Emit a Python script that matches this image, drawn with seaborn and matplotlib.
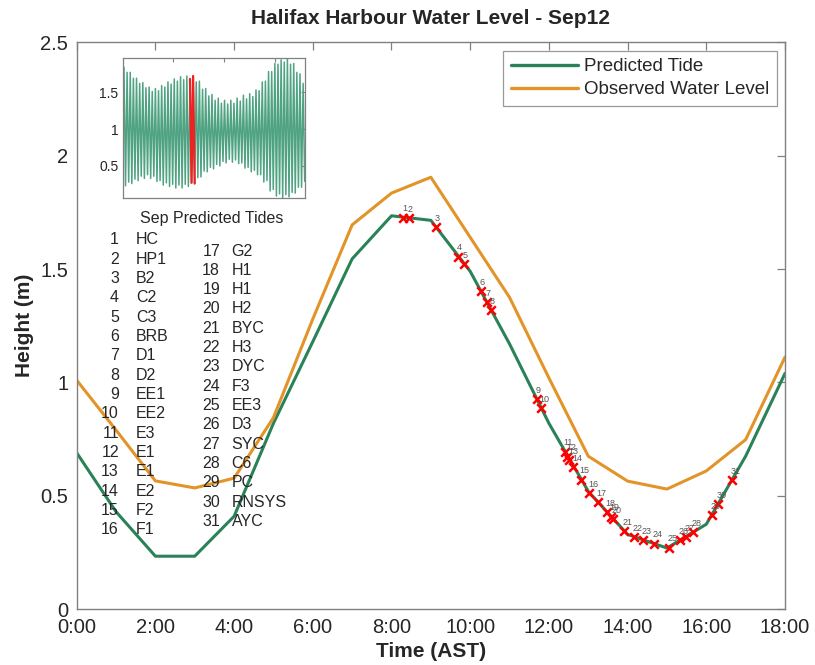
import numpy as np
import pandas as pd
import seaborn as sns
import matplotlib
matplotlib.use("Agg")
import matplotlib.pyplot as plt

# Hourly water levels for 12 September (m)
hours = list(range(19))
predicted = [0.69, 0.43, 0.234, 0.234, 0.41, 0.82, 1.18, 1.545, 1.735, 1.715,
             1.49, 1.17, 0.82, 0.52, 0.33, 0.27, 0.375, 0.675, 1.04]
observed = [1.01, 0.79, 0.566, 0.535, 0.578, 0.845, 1.28, 1.695, 1.835, 1.905,
            1.64, 1.375, 1.02, 0.675, 0.565, 0.53, 0.61, 0.748, 1.112]
hour_labels = ["0:00", "2:00", "4:00", "6:00", "8:00", "10:00", "12:00",
               "14:00", "16:00", "18:00"]

# Stations along the route: time passed (h) and predicted height (m)
station_ids = list(range(1, 32))
station_names = ["HC", "HP1", "B2", "C2", "C3", "BRB", "D1", "D2", "EE1", "EE2",
                 "E3", "E1", "E1", "E2", "F2", "F1", "G2", "H1", "H1", "H2",
                 "BYC", "H3", "DYC", "F3", "EE3", "D3", "SYC", "C6", "PC",
                 "RNSYS", "AYC"]
station_hours = [8.30, 8.45, 9.12, 9.70, 9.85, 10.27, 10.42, 10.53, 11.69, 11.80,
                 12.41, 12.47, 12.52, 12.62, 12.82, 13.03, 13.24, 13.48, 13.58,
                 13.64, 13.91, 14.15, 14.40, 14.67, 15.06, 15.33, 15.48, 15.66,
                 16.14, 16.30, 16.65]
station_heights = [1.727, 1.725, 1.686, 1.555, 1.522, 1.404, 1.356, 1.321, 0.925,
                   0.888, 0.695, 0.673, 0.658, 0.628, 0.572, 0.514, 0.474, 0.428,
                   0.409, 0.398, 0.346, 0.320, 0.305, 0.290, 0.272, 0.304, 0.320,
                   0.339, 0.416, 0.465, 0.568]

# September predicted high and low waters (m), one pair per tidal cycle
sep_highs = [1.84, 1.77, 1.77, 1.69, 1.69, 1.62, 1.63, 1.56, 1.57, 1.51,
             1.55, 1.52, 1.59, 1.57, 1.64, 1.61, 1.68, 1.65, 1.71, 1.67,
             1.72, 1.68, 1.72, 1.64, 1.65, 1.54, 1.55, 1.45, 1.47, 1.39,
             1.42, 1.35, 1.39, 1.34, 1.39, 1.35, 1.42, 1.38, 1.46, 1.41,
             1.48, 1.44, 1.53, 1.52, 1.64, 1.65, 1.78, 1.78, 1.89, 1.88,
             1.94, 1.91, 1.95, 1.88, 1.89, 1.77, 1.75, 1.62]
sep_lows = [0.23, 0.28, 0.26, 0.32, 0.30, 0.36, 0.33, 0.38, 0.33, 0.36,
            0.29, 0.30, 0.24, 0.27, 0.22, 0.25, 0.20, 0.24, 0.20, 0.25,
            0.22, 0.27, 0.26, 0.34, 0.35, 0.43, 0.42, 0.48, 0.46, 0.52,
            0.50, 0.56, 0.54, 0.59, 0.55, 0.58, 0.53, 0.54, 0.47, 0.48,
            0.42, 0.44, 0.38, 0.38, 0.28, 0.30, 0.16, 0.18, 0.09, 0.12,
            0.07, 0.11, 0.08, 0.14, 0.13, 0.21, 0.21, 0.29]

GREEN = "#2a8259"
ORANGE = "#e39428"
AXIS_GREY = "#808080"

sns.set_style("white")
plt.rcParams["font.family"] = ["Liberation Sans", "DejaVu Sans"]

fig = plt.figure(figsize=(8.15, 6.65), dpi=100)
ax = fig.add_axes([0.0941, 0.0838, 0.8691, 0.8526])

levels = pd.DataFrame({
    "hour": hours + hours,
    "height": predicted + observed,
    "series": ["Predicted Tide"] * len(hours) + ["Observed Water Level"] * len(hours),
})
sns.lineplot(data=levels, x="hour", y="height", hue="series",
             palette={"Predicted Tide": GREEN, "Observed Water Level": ORANGE},
             linewidth=2.2, ax=ax)

stations = pd.DataFrame({"hour": station_hours, "height": station_heights})
sns.scatterplot(data=stations, x="hour", y="height", marker="x", color="red",
                s=38, linewidth=1.8, zorder=5, ax=ax, legend=False)
for sid, h, z in zip(station_ids, station_hours, station_heights):
    ax.annotate(str(sid), (h, z), xytext=(-1, 3), textcoords="offset points",
                ha="left", va="bottom", fontsize=6.5, color="#555555", zorder=6)

ax.set_xlim(0, 18)
ax.set_ylim(0, 2.5)
ax.set_xticks(range(0, 19, 2))
ax.set_xticklabels(hour_labels)
ax.set_yticks([0, 0.5, 1, 1.5, 2, 2.5])
ax.set_yticklabels(["0", "0.5", "1", "1.5", "2", "2.5"])
ax.tick_params(direction="in", length=6, width=0.9, color=AXIS_GREY,
               labelsize=14.5, top=True, right=True, pad=6)
for s in ax.spines.values():
    s.set_color(AXIS_GREY)
    s.set_linewidth(1.0)
ax.set_xlabel("Time (AST)", fontsize=15, fontweight="bold", labelpad=4)
ax.set_ylabel("Height (m)", fontsize=15, fontweight="bold", labelpad=5)
ax.set_title("Halifax Harbour Water Level - Sep12", fontsize=15,
             fontweight="bold", pad=13)

leg = ax.legend(loc="upper right", fontsize=13.5, frameon=True, fancybox=False,
                edgecolor=AXIS_GREY, handlelength=3.6, handletextpad=0.3,
                borderaxespad=0.45, borderpad=0.4, labelspacing=0.3)
leg.get_frame().set_linewidth(0.9)
for line in leg.get_lines():
    line.set_linewidth(2.4)

# Station key in two columns
row_step = 19.33
for i, (sid, name) in enumerate(zip(station_ids, station_names)):
    if sid <= 16:
        y_px = 240 + i * row_step
        x_num, x_name = 119, 136
    else:
        y_px = 251 + (i - 16) * row_step
        x_num, x_name = 220, 231.5
    fy = 1 - y_px / 665
    fig.text(x_num / 815, fy, str(sid), ha="right", va="center", fontsize=11.5)
    fig.text(x_name / 815, fy, name, ha="left", va="center", fontsize=11.5)

# Inset: whole-month predicted tide with 12 September highlighted
n = len(sep_highs)
t_high = 0.2 + np.arange(n) * 0.5175
t_low = t_high + 0.25875
month = pd.DataFrame({
    "day": np.ravel(np.column_stack([t_high, t_low])),
    "height": np.ravel(np.column_stack([sep_highs, sep_lows])),
})
axin = fig.add_axes([0.1506, 0.7018, 0.2236, 0.2105])
sns.lineplot(data=month, x="day", y="height", color="#4fa383", linewidth=1.1,
             ax=axin, estimator=None, sort=False)
sel = month[(month["day"] >= 10.95) & (month["day"] <= 12.0)]
sns.lineplot(data=sel, x="day", y="height", color="#ee2222", linewidth=1.6,
             ax=axin, estimator=None, sort=False)
axin.set_xlim(0, 30)
axin.set_ylim(0.06, 1.96)
axin.set_xticks([8.33, 16.67, 25.0])
axin.set_xticklabels([])
axin.set_yticks([0.5, 1, 1.5])
axin.set_yticklabels(["0.5", "1", "1.5"])
axin.set_xlabel("")
axin.set_ylabel("")
axin.tick_params(direction="in", length=3, width=0.8, color=AXIS_GREY,
                 labelsize=10, top=True, right=True, pad=3)
for s in axin.spines.values():
    s.set_color(AXIS_GREY)
    s.set_linewidth(0.9)
fig.text(211.5 / 815, 1 - 218 / 665, "Sep Predicted Tides", ha="center",
         va="center", fontsize=11.5)

fig.savefig("out.png", dpi=100)
